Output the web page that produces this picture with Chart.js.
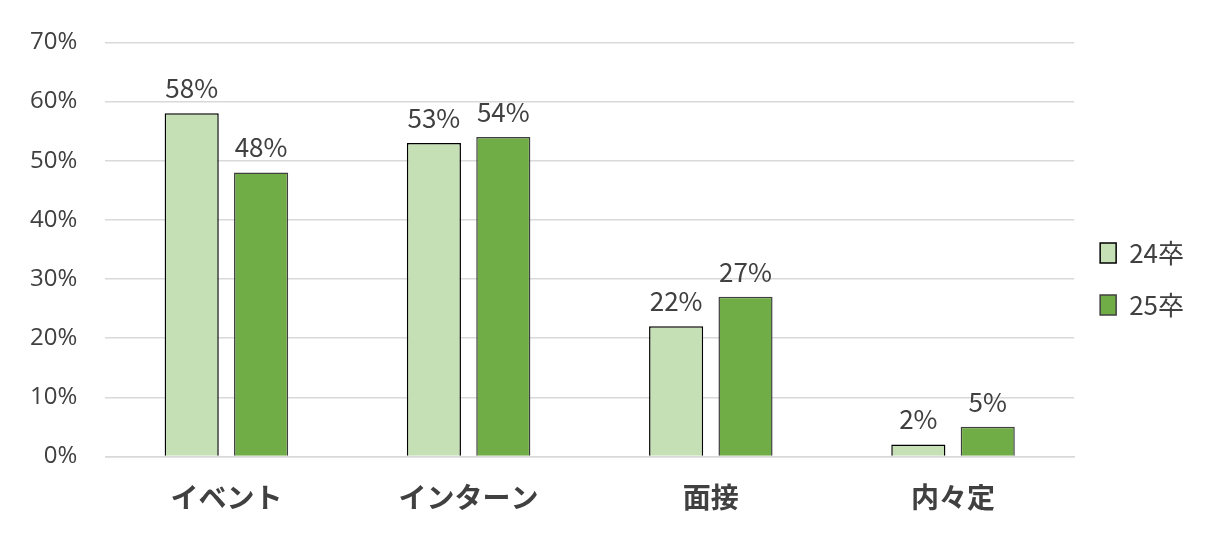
<!DOCTYPE html>
<html><head><meta charset="utf-8">
<script src="https://cdn.jsdelivr.net/npm/chart.js@4"></script>
<style>html,body{margin:0;background:#fff}#w{width:1222px;height:542px}</style>
</head><body><div id="w"><canvas id="c"></canvas></div>
<script>
const categories = ["イベント","インターン","面接","内々定"];
const series24 = [58,53,22,2];
const series25 = [48,54,27,5];
const seriesNames = ["24卒","25卒"];
const yTicks = [0,10,20,30,40,50,60,70];

const labelPlugin = {
  id:'lbl',
  afterDatasetsDraw(chart){
    const ctx = chart.ctx;
    ctx.save();
    ctx.font = '26px "Noto Sans CJK JP", "Open Sans", sans-serif';
    ctx.fillStyle = '#404040';
    ctx.textAlign = 'center';
    ctx.textBaseline = 'bottom';
    chart.data.datasets.forEach((ds,i)=>{
      chart.getDatasetMeta(i).data.forEach((bar,j)=>{
        ctx.fillText(ds.data[j]+'%', bar.x, bar.y-12);
      });
    });
    ctx.restore();
  }
};

new Chart(document.getElementById('c'),{
  type:'bar',
  data:{labels:categories,datasets:[
    {label:seriesNames[0],data:series24,backgroundColor:'#c5e0b4',borderColor:'#000',borderWidth:1.5,barPercentage:0.78,categoryPercentage:0.573},
    {label:seriesNames[1],data:series25,backgroundColor:'#70ad47',borderColor:'#404040',borderWidth:1.5,barPercentage:0.78,categoryPercentage:0.573}
  ]},
  options:{
    responsive:true,maintainAspectRatio:false,animation:false,
    layout:{padding:{top:28,right:28,left:2,bottom:12}},
    plugins:{tooltip:{enabled:false},
      legend:{position:'right',labels:{boxWidth:16,boxHeight:20,padding:26,color:'#404040',font:{size:26,family:'"Noto Sans CJK JP", sans-serif'}}}},
    scales:{
      y:{min:0,max:70,afterBuildTicks(a){a.ticks=yTicks.map(v=>({value:v}));},
        ticks:{callback:v=>v+'%',color:'#404040',padding:28,font:{size:24,family:'"Open Sans", sans-serif'}},
        grid:{color:'#d9d9d9',lineWidth:1.5,drawTicks:false},border:{display:false}},
      x:{ticks:{color:'#404040',padding:16,font:{size:28,weight:'bold',family:'"Noto Sans CJK JP", sans-serif'}},
        grid:{display:false},border:{color:'#d9d9d9',width:1.5}}
    }
  },
  plugins:[labelPlugin]
});
</script></body></html>
